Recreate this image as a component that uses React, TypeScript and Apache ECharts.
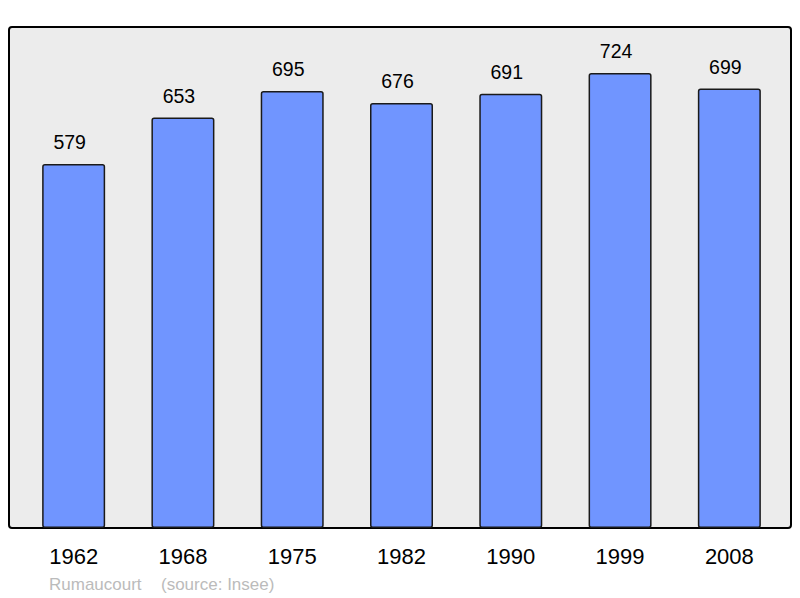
import React, { useEffect, useRef } from "react";
import * as echarts from "echarts";

const years = ["1962", "1968", "1975", "1982", "1990", "1999", "2008"];
const population = [579, 653, 695, 676, 691, 724, 699];
const footerName = "Rumaucourt";
const footerSource = "(source: Insee)";

export default function App() {
  const ref = useRef<HTMLDivElement>(null);
  useEffect(() => {
    const chart = echarts.init(ref.current!, null, { renderer: "svg" });
    const font = "Liberation Sans, Arial, sans-serif";
    chart.setOption({
      animation: false,
      textStyle: { fontFamily: font },
      graphic: [
        {
          type: "rect",
          z: -10,
          shape: { x: 9, y: 27, width: 782, height: 501, r: 3 },
          style: { fill: "#ececec", stroke: "#000", lineWidth: 2 },
        },
        {
          type: "text",
          x: 49,
          y: 584,
          style: {
            text: footerName,
            fill: "#bbbbbb",
            fontSize: 17,
            fontFamily: font,
            textVerticalAlign: "middle",
          },
        },
        {
          type: "text",
          x: 161,
          y: 584,
          style: {
            text: footerSource,
            fill: "#bbbbbb",
            fontSize: 17,
            fontFamily: font,
            textVerticalAlign: "middle",
          },
        },
      ],
      grid: { left: 19, right: 16, top: 27, bottom: 70, containLabel: false },
      xAxis: {
        type: "category",
        data: years,
        axisLine: { show: false },
        axisTick: { show: false },
        axisLabel: { color: "#000", fontSize: 22, margin: 17 },
      },
      yAxis: {
        type: "value",
        min: 0,
        max: 797,
        show: false,
        splitLine: { show: false },
      },
      series: [
        {
          type: "bar",
          data: population,
          barWidth: 63,
          itemStyle: {
            color: "#7095ff",
            borderColor: "#1a1a1a",
            borderWidth: 1.5,
            borderRadius: 2,
          },
          label: {
            show: true,
            position: "top",
            distance: 12,
            offset: [-4, 0],
            color: "#000",
            fontSize: 19.5,
          },
        },
      ],
    });
    return () => chart.dispose();
  }, []);
  return <div ref={ref} style={{ width: 800, height: 598, position: "absolute", left: 0, top: 0 }} />;
}
